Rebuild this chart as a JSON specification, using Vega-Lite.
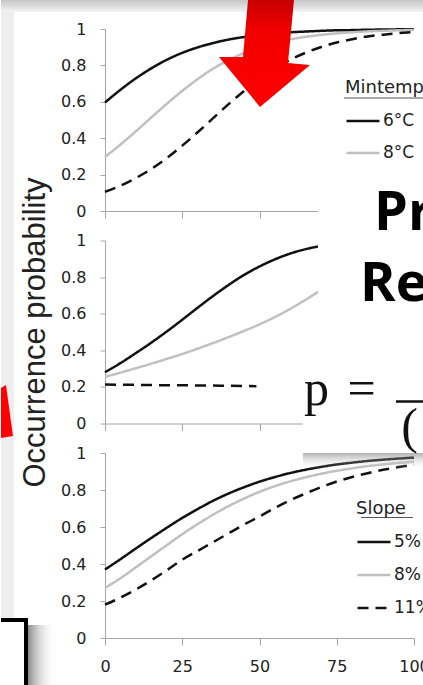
{
  "$schema": "https://vega.github.io/schema/vega-lite/v6.json",
  "padding": 0,
  "background": "white",
  "spacing": 29.5,
  "bounds": "flush",
  "datasets": {
    "p1": [
      {"series":"6°C","x":0,"p":0.596},{"series":"6°C","x":5,"p":0.666},{"series":"6°C","x":10,"p":0.729},{"series":"6°C","x":15,"p":0.784},{"series":"6°C","x":20,"p":0.831},{"series":"6°C","x":25,"p":0.869},{"series":"6°C","x":30,"p":0.899},{"series":"6°C","x":35,"p":0.923},{"series":"6°C","x":40,"p":0.942},{"series":"6°C","x":45,"p":0.956},{"series":"6°C","x":50,"p":0.967},{"series":"6°C","x":55,"p":0.976},{"series":"6°C","x":60,"p":0.982},{"series":"6°C","x":65,"p":0.986},{"series":"6°C","x":70,"p":0.990},{"series":"6°C","x":75,"p":0.993},{"series":"6°C","x":80,"p":0.994},{"series":"6°C","x":85,"p":0.996},{"series":"6°C","x":90,"p":0.997},{"series":"6°C","x":95,"p":0.998},{"series":"6°C","x":100,"p":0.998},
      {"series":"8°C","x":0,"p":0.297},{"series":"8°C","x":5,"p":0.365},{"series":"8°C","x":10,"p":0.438},{"series":"8°C","x":15,"p":0.514},{"series":"8°C","x":20,"p":0.589},{"series":"8°C","x":25,"p":0.660},{"series":"8°C","x":30,"p":0.725},{"series":"8°C","x":35,"p":0.782},{"series":"8°C","x":40,"p":0.829},{"series":"8°C","x":45,"p":0.868},{"series":"8°C","x":50,"p":0.899},{"series":"8°C","x":55,"p":0.924},{"series":"8°C","x":60,"p":0.943},{"series":"8°C","x":65,"p":0.957},{"series":"8°C","x":70,"p":0.968},{"series":"8°C","x":75,"p":0.976},{"series":"8°C","x":80,"p":0.982},{"series":"8°C","x":85,"p":0.987},{"series":"8°C","x":90,"p":0.990},{"series":"8°C","x":95,"p":0.993},{"series":"8°C","x":100,"p":0.995},
      {"series":"10°C","x":0,"p":0.106},{"series":"10°C","x":5,"p":0.139},{"series":"10°C","x":10,"p":0.181},{"series":"10°C","x":15,"p":0.231},{"series":"10°C","x":20,"p":0.291},{"series":"10°C","x":25,"p":0.359},{"series":"10°C","x":30,"p":0.433},{"series":"10°C","x":35,"p":0.510},{"series":"10°C","x":40,"p":0.587},{"series":"10°C","x":45,"p":0.659},{"series":"10°C","x":50,"p":0.725},{"series":"10°C","x":55,"p":0.782},{"series":"10°C","x":60,"p":0.831},{"series":"10°C","x":65,"p":0.870},{"series":"10°C","x":70,"p":0.901},{"series":"10°C","x":75,"p":0.926},{"series":"10°C","x":80,"p":0.944},{"series":"10°C","x":85,"p":0.959},{"series":"10°C","x":90,"p":0.969},{"series":"10°C","x":95,"p":0.977},{"series":"10°C","x":100,"p":0.983}
    ],
    "p2": [
      {"series":"A","x":0,"p":0.28},{"series":"A","x":5,"p":0.33},{"series":"A","x":10,"p":0.385},{"series":"A","x":15,"p":0.442},{"series":"A","x":20,"p":0.503},{"series":"A","x":25,"p":0.567},{"series":"A","x":30,"p":0.633},{"series":"A","x":35,"p":0.697},{"series":"A","x":40,"p":0.757},{"series":"A","x":45,"p":0.812},{"series":"A","x":50,"p":0.858},{"series":"A","x":55,"p":0.897},{"series":"A","x":60,"p":0.929},{"series":"A","x":65,"p":0.953},{"series":"A","x":70,"p":0.970},{"series":"A","x":75,"p":0.980},{"series":"A","x":80,"p":0.986},{"series":"A","x":85,"p":0.990},{"series":"A","x":90,"p":0.993},{"series":"A","x":95,"p":0.995},{"series":"A","x":100,"p":0.996},
      {"series":"B","x":0,"p":0.255},{"series":"B","x":5,"p":0.278},{"series":"B","x":10,"p":0.302},{"series":"B","x":15,"p":0.327},{"series":"B","x":20,"p":0.353},{"series":"B","x":25,"p":0.38},{"series":"B","x":30,"p":0.409},{"series":"B","x":35,"p":0.44},{"series":"B","x":40,"p":0.472},{"series":"B","x":45,"p":0.506},{"series":"B","x":50,"p":0.542},{"series":"B","x":55,"p":0.582},{"series":"B","x":60,"p":0.627},{"series":"B","x":65,"p":0.677},{"series":"B","x":70,"p":0.73},{"series":"B","x":75,"p":0.78},{"series":"B","x":80,"p":0.824},{"series":"B","x":85,"p":0.861},{"series":"B","x":90,"p":0.892},{"series":"B","x":95,"p":0.918},{"series":"B","x":100,"p":0.938},
      {"series":"C","x":0,"p":0.213},{"series":"C","x":10,"p":0.211},{"series":"C","x":20,"p":0.209},{"series":"C","x":30,"p":0.208},{"series":"C","x":40,"p":0.206},{"series":"C","x":49,"p":0.204}
    ],
    "p3": [
      {"series":"5%","x":0,"p":0.370},{"series":"5%","x":5,"p":0.426},{"series":"5%","x":10,"p":0.484},{"series":"5%","x":15,"p":0.541},{"series":"5%","x":20,"p":0.596},{"series":"5%","x":25,"p":0.649},{"series":"5%","x":30,"p":0.697},{"series":"5%","x":35,"p":0.742},{"series":"5%","x":40,"p":0.781},{"series":"5%","x":45,"p":0.815},{"series":"5%","x":50,"p":0.845},{"series":"5%","x":55,"p":0.870},{"series":"5%","x":60,"p":0.892},{"series":"5%","x":65,"p":0.910},{"series":"5%","x":70,"p":0.925},{"series":"5%","x":75,"p":0.938},{"series":"5%","x":80,"p":0.948},{"series":"5%","x":85,"p":0.957},{"series":"5%","x":90,"p":0.964},{"series":"5%","x":95,"p":0.970},{"series":"5%","x":100,"p":0.975},
      {"series":"8%","x":0,"p":0.270},{"series":"8%","x":5,"p":0.323},{"series":"8%","x":10,"p":0.382},{"series":"8%","x":15,"p":0.442},{"series":"8%","x":20,"p":0.502},{"series":"8%","x":25,"p":0.561},{"series":"8%","x":30,"p":0.616},{"series":"8%","x":35,"p":0.667},{"series":"8%","x":40,"p":0.713},{"series":"8%","x":45,"p":0.754},{"series":"8%","x":50,"p":0.790},{"series":"8%","x":55,"p":0.821},{"series":"8%","x":60,"p":0.847},{"series":"8%","x":65,"p":0.869},{"series":"8%","x":70,"p":0.888},{"series":"8%","x":75,"p":0.904},{"series":"8%","x":80,"p":0.917},{"series":"8%","x":85,"p":0.929},{"series":"8%","x":90,"p":0.938},{"series":"8%","x":95,"p":0.946},{"series":"8%","x":100,"p":0.953},
      {"series":"11%","x":0,"p":0.180},{"series":"11%","x":5,"p":0.218},{"series":"11%","x":10,"p":0.262},{"series":"11%","x":15,"p":0.312},{"series":"11%","x":20,"p":0.366},{"series":"11%","x":25,"p":0.423},{"series":"11%","x":30,"p":0.471},{"series":"11%","x":35,"p":0.518},{"series":"11%","x":40,"p":0.566},{"series":"11%","x":45,"p":0.613},{"series":"11%","x":50,"p":0.657},{"series":"11%","x":55,"p":0.703},{"series":"11%","x":60,"p":0.745},{"series":"11%","x":65,"p":0.782},{"series":"11%","x":70,"p":0.816},{"series":"11%","x":75,"p":0.846},{"series":"11%","x":80,"p":0.870},{"series":"11%","x":85,"p":0.891},{"series":"11%","x":90,"p":0.909},{"series":"11%","x":95,"p":0.924},{"series":"11%","x":100,"p":0.937}
    ]
  },
  "vconcat": [
    {
      "width": 309, "height": 182,
      "encoding": {
        "x": {"field": "x", "type": "quantitative", "title": null, "scale": {"domain": [0, 100], "nice": false}, "axis": {"values": [0, 25, 50, 75, 100], "labels": false, "tickSize": 7, "title": null}},
        "y": {"field": "y", "type": "quantitative", "title": null, "scale": {"domain": [0, 1], "nice": false}, "axis": {"values": [0, 0.2, 0.4, 0.6, 0.8, 1], "format": "~g", "tickSize": 5, "labelPadding": 14, "title": null}}
      },
      "layer": [
        {
          "data": {"values": [{"x": -33.66, "x2": -29.45, "y": 1.1593, "y2": -2.6044}]},
          "mark": {"type": "rect", "color": "#eeeeee"},
          "encoding": {"x2": {"field": "x2"}, "y2": {"field": "y2"}}
        },
        {
          "data": {"values": [{"x": -33.66, "x2": 103.24, "y": 1.1593, "y2": 1.0934}]},
          "mark": {"type": "rect", "color": {"gradient": "linear", "x1": 0, "y1": 0, "x2": 0, "y2": 1, "stops": [{"offset": 0, "color": "#c6c6c6"}, {"offset": 0.5, "color": "#dcdcdc"}, {"offset": 1, "color": "#f4f4f4"}]}},
          "encoding": {"x2": {"field": "x2"}, "y2": {"field": "y2"}}
        },
        {
          "data": {"name": "p1"},
          "mark": {"type": "line", "strokeWidth": 2.5, "interpolate": "monotone"},
          "encoding": {
            "y": {"field": "p", "type": "quantitative", "title": null, "scale": {"domain": [0, 1], "nice": false}, "axis": {"values": [0, 0.2, 0.4, 0.6, 0.8, 1], "format": "~g", "tickSize": 5, "labelPadding": 14, "title": null}},
            "color": {"field": "series", "type": "nominal", "scale": {"domain": ["6°C", "8°C", "10°C"], "range": ["#111111", "#c0c0c0", "#111111"]}, "legend": {"title": "Mintemp", "values": ["6°C", "8°C"], "orient": "none", "legendX": 240, "legendY": 50}},
            "strokeDash": {"field": "series", "type": "nominal", "scale": {"domain": ["6°C", "8°C", "10°C"], "range": [[1, 0], [1, 0], [11, 7]]}, "legend": null}
          }
        },
        {
          "data": {"values": [{"x": 77.35, "x2": 102.9, "y": 0.6209}]},
          "mark": {"type": "rule", "color": "#555555", "strokeWidth": 1.2},
          "encoding": {"x2": {"field": "x2"}}
        },
        {
          "data": {"values": [{"x": 51.62, "y": 0.8571}]},
          "mark": {"type": "point", "shape": "M-0.3,-1L0.536,-1L0.427,0.145L0.827,0.182L-0.082,0.945L-0.827,0.036L-0.391,0.036Z", "size": 12100, "filled": true, "opacity": 1, "strokeWidth": 0, "fill": {"gradient": "linear", "x1": 0, "y1": 0, "x2": 0, "y2": 1, "stops": [{"offset": 0, "color": "#c80000"}, {"offset": 0.3, "color": "#f20000"}, {"offset": 1, "color": "#ff0000"}]}},
          "encoding": {}
        }
      ]
    },
    {
      "width": 309, "height": 183,
      "encoding": {
        "x": {"field": "x", "type": "quantitative", "title": null, "scale": {"domain": [0, 100], "nice": false}, "axis": {"values": [0, 25, 50, 75, 100], "labels": false, "tickSize": 7, "title": null}},
        "y": {"field": "y", "type": "quantitative", "title": "Occurrence probability", "scale": {"domain": [0, 1], "nice": false}, "axis": {"values": [0, 0.2, 0.4, 0.6, 0.8, 1], "format": "~g", "tickSize": 5, "labelPadding": 14, "title": "Occurrence probability", "titlePadding": 9, "titleFont": "Liberation Sans", "titleFontSize": 31, "titleFontWeight": "normal", "titleColor": "#222222"}}
      },
      "layer": [
        {
          "data": {"name": "p2"},
          "mark": {"type": "line", "strokeWidth": 2.5, "interpolate": "monotone"},
          "encoding": {
            "y": {"field": "p", "type": "quantitative", "title": "Occurrence probability", "scale": {"domain": [0, 1], "nice": false}, "axis": {"values": [0, 0.2, 0.4, 0.6, 0.8, 1], "format": "~g", "tickSize": 5, "labelPadding": 14, "title": "Occurrence probability", "titlePadding": 9, "titleFont": "Liberation Sans", "titleFontSize": 31, "titleFontWeight": "normal", "titleColor": "#222222"}},
            "color": {"field": "series", "type": "nominal", "scale": {"domain": ["A", "B", "C"], "range": ["#111111", "#c0c0c0", "#111111"]}, "legend": null},
            "strokeDash": {"field": "series", "type": "nominal", "scale": {"domain": ["A", "B", "C"], "range": [[1, 0], [1, 0], [11, 7]]}, "legend": null}
          }
        },
        {
          "data": {"values": [{"x": -31.72, "y": 0.0656}]},
          "mark": {"type": "point", "shape": "M-0.226,-0.887L-0.038,-1L0.226,0.925L-0.226,1Z", "size": 2809, "filled": true, "opacity": 1, "strokeWidth": 0, "fill": "#ff0000"},
          "encoding": {}
        },
        {
          "data": {"values": [{"x": 68.93, "x2": 103.24, "y": 1.385, "y2": 0.4945}, {"x": 64.08, "x2": 103.24, "y": 0.4945, "y2": -0.161}]},
          "mark": {"type": "rect", "color": "#ffffff"},
          "encoding": {"x2": {"field": "x2"}, "y2": {"field": "y2"}}
        },
        {
          "data": {"values": [{"x": 87.06, "y": 1.06, "label": "Pr"}, {"x": 82.52, "y": 0.6667, "label": "Re"}]},
          "mark": {"type": "text", "font": "Open Sans", "fontWeight": "bold", "fontSize": 54, "align": "left", "baseline": "alphabetic", "color": "#000000"},
          "encoding": {"text": {"field": "label"}}
        },
        {
          "data": {"values": [{"x": 68.45, "y": 0.1011, "label": "p"}, {"x": 83.0, "y": 0.1011, "label": "="}, {"x": 98.54, "y": -0.1066, "label": "("}]},
          "mark": {"type": "text", "font": "Liberation Serif", "fontSize": 50, "align": "center", "baseline": "alphabetic", "color": "#111111"},
          "encoding": {"text": {"field": "label"}}
        },
        {
          "data": {"values": [{"x": 94.17, "x2": 103.24, "y": 0.1202}]},
          "mark": {"type": "rule", "color": "#111111", "strokeWidth": 2.5},
          "encoding": {"x2": {"field": "x2"}}
        }
      ]
    },
    {
      "width": 309, "height": 185,
      "encoding": {
        "x": {"field": "x", "type": "quantitative", "title": null, "scale": {"domain": [0, 100], "nice": false}, "axis": {"values": [0, 25, 50, 75, 100], "format": "d", "tickSize": 7, "labelPadding": 13, "title": null}},
        "y": {"field": "y", "type": "quantitative", "title": null, "scale": {"domain": [0, 1], "nice": false}, "axis": {"values": [0, 0.2, 0.4, 0.6, 0.8, 1], "format": "~g", "tickSize": 5, "labelPadding": 14, "title": null}}
      },
      "layer": [
        {
          "data": {"name": "p3"},
          "mark": {"type": "line", "strokeWidth": 2.5, "interpolate": "monotone"},
          "encoding": {
            "y": {"field": "p", "type": "quantitative", "title": null, "scale": {"domain": [0, 1], "nice": false}, "axis": {"values": [0, 0.2, 0.4, 0.6, 0.8, 1], "format": "~g", "tickSize": 5, "labelPadding": 14, "title": null}},
            "color": {"field": "series", "type": "nominal", "scale": {"domain": ["5%", "8%", "11%"], "range": ["#111111", "#c0c0c0", "#111111"]}, "legend": {"title": "Slope", "orient": "none", "legendX": 251, "legendY": 47, "rowPadding": 7}},
            "strokeDash": {"field": "series", "type": "nominal", "scale": {"domain": ["5%", "8%", "11%"], "range": [[1, 0], [1, 0], [11, 7]]}, "legend": {"title": "Slope", "orient": "none", "legendX": 251, "legendY": 47, "rowPadding": 7}}
          }
        },
        {
          "data": {"values": [{"x": 82.85, "x2": 99.68, "y": 0.6514}]},
          "mark": {"type": "rule", "color": "#555555", "strokeWidth": 1.2},
          "encoding": {"x2": {"field": "x2"}}
        },
        {
          "data": {"values": [{"x": 64.08, "x2": 103.24, "y": 1.0, "y2": 0.91}]},
          "mark": {"type": "rect", "color": {"gradient": "linear", "x1": 0, "y1": 0, "x2": 0, "y2": 1, "stops": [{"offset": 0, "color": "rgba(110,110,110,0.55)"}, {"offset": 1, "color": "rgba(255,255,255,0)"}]}},
          "encoding": {"x2": {"field": "x2"}, "y2": {"field": "y2"}}
        },
        {
          "data": {"values": [{"x": -24.92, "x2": -15.9, "y": 0.07, "y2": -0.254}]},
          "mark": {"type": "rect", "color": {"gradient": "linear", "x1": 0, "y1": 0, "x2": 1, "y2": 0, "stops": [{"offset": 0, "color": "rgba(110,110,110,0.8)"}, {"offset": 1, "color": "rgba(255,255,255,0)"}]}},
          "encoding": {"x2": {"field": "x2"}, "y2": {"field": "y2"}}
        },
        {
          "data": {"values": [{"x": -33.66, "x2": -24.92, "y": 0.1081, "y2": -0.254}]},
          "mark": {"type": "rect", "color": "#ffffff"},
          "encoding": {"x2": {"field": "x2"}, "y2": {"field": "y2"}}
        },
        {
          "data": {"values": [{"x": -33.66, "x2": -24.92, "y": 0.1081, "y2": 0.0865}, {"x": -26.21, "x2": -24.92, "y": 0.1081, "y2": -0.254}]},
          "mark": {"type": "rect", "color": "#000000"},
          "encoding": {"x2": {"field": "x2"}, "y2": {"field": "y2"}}
        }
      ]
    }
  ],
  "resolve": {
    "scale": {"x": "independent", "y": "independent", "color": "independent", "strokeDash": "independent"},
    "legend": {"color": "independent", "strokeDash": "independent"}
  },
  "config": {
    "view": {"stroke": null},
    "font": "DejaVu Sans",
    "axis": {"grid": false, "domainColor": "#a6a6a6", "tickColor": "#a6a6a6", "labelFont": "DejaVu Sans", "labelFontSize": 16, "labelColor": "#222222", "labelOverlap": false, "labelFlush": false, "labelBound": false},
    "legend": {"padding": 0, "titleFont": "DejaVu Sans", "titleFontSize": 18, "titleFontWeight": "normal", "titleColor": "#222222", "labelFont": "DejaVu Sans", "labelFontSize": 17, "labelColor": "#222222", "symbolType": "stroke", "symbolStrokeWidth": 2.5, "symbolSize": 1089, "labelOffset": 2, "rowPadding": 6, "titlePadding": 6}
  }
}
